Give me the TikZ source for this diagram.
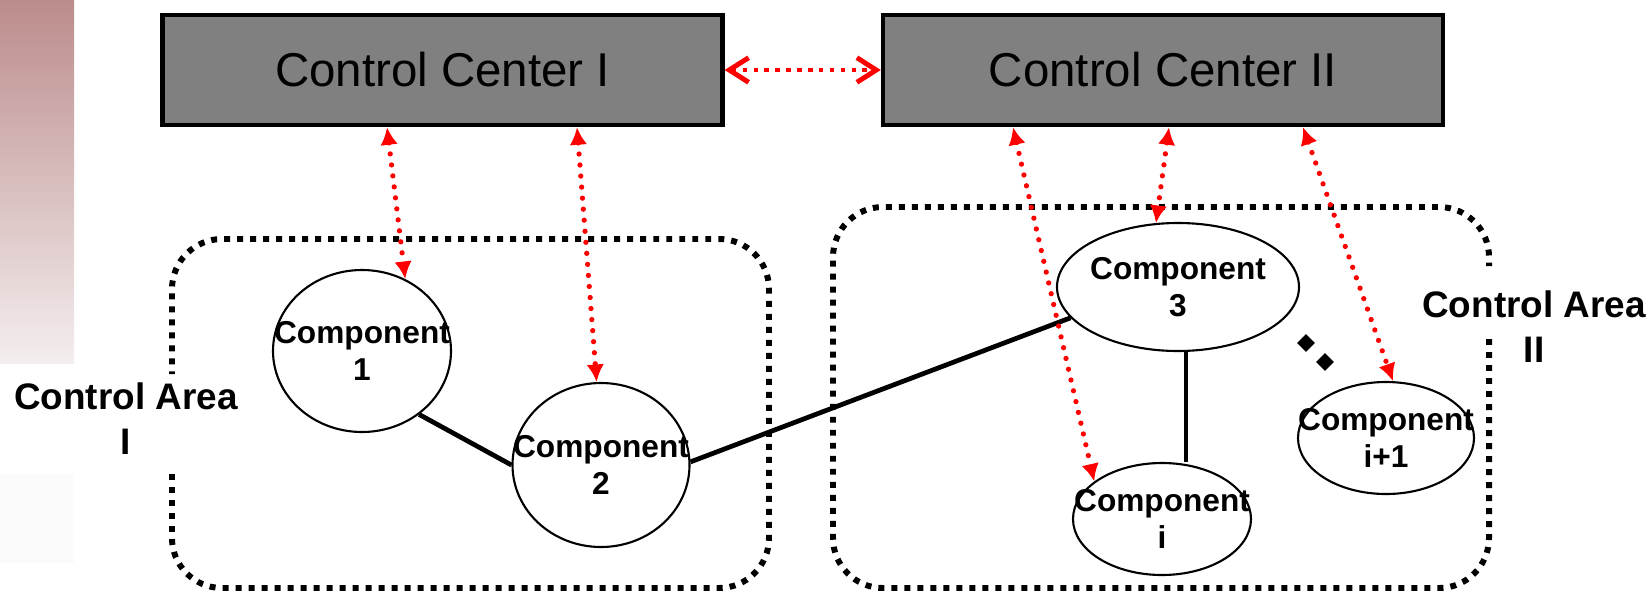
\documentclass[tikz,border=0pt]{standalone}
\usepackage{fontspec}
\setmainfont{Liberation Sans}
\usetikzlibrary{arrows.meta,shapes.geometric}
\definecolor{barrose}{RGB}{188,140,140}
\definecolor{barpale}{RGB}{244,238,238}

\begin{document}
\begin{tikzpicture}[
  ccbox/.style={draw, line width=2.5pt, fill=black!50, minimum width=11.2cm, minimum height=2.2cm, font=\fontsize{27}{32}\selectfont},
  comp/.style={draw, ellipse, fill=white, line width=1.2pt, inner sep=0pt},
  comptext/.style={align=center, font=\fontsize{18}{21}\selectfont\bfseries},
  areatext/.style={align=center, font=\fontsize{21}{25.6}\selectfont\bfseries},
  areabox/.style={line width=3.4pt, dash pattern=on 3.4pt off 4pt, rounded corners=1cm},
  link/.style={line width=2.7pt},
  ctrl/.style={red, line width=3pt, line cap=round, dash pattern=on 0pt off 6.3pt, {Latex[length=10pt,width=10pt]}-{Latex[length=10pt,width=10pt]}},
  peer/.style={red, line width=2.8pt, dash pattern=on 2.6pt off 3.6pt, {Straight Barb[length=11pt,width=14pt]}-{Straight Barb[length=11pt,width=14pt]}}
]
\useasboundingbox (0,0) rectangle (33.02,11.82);
\shade[top color=barrose, bottom color=barpale] (0,4.56) rectangle (1.48,11.82);
\fill[black!1.5] (0,.56) rectangle (1.48,2.34);

\node[ccbox] (cc1) at (8.85,10.42) {Control Center I};
\node[ccbox] (cc2) at (23.26,10.42) {Control Center II};

% control areas, open where the labels sit
\draw[areabox] (3.44,2.34) |- (15.38,.06) |- (3.44,7.04) -- (3.44,4.34);
\draw[areabox] (29.78,5.04) |- (16.66,.06) |- (29.78,7.68) -- (29.78,6.5);
\node[areatext] (a1) at (2.52,3.44) {Control Area\\I};
\node[areatext] (a2) at (30.68,5.28) {Control Area\\II};

\foreach \n/\x/\y/\w/\h/\t in {1/7.24/4.8/3.56/3.24/1, 2/12.02/2.52/3.54/3.28/2, 3/23.56/6.08/4.84/2.56/3, i/23.24/1.44/3.56/2.24/i, j/27.72/3.06/3.52/2.24/i+1}
{
    \node[comp, minimum width=\w cm, minimum height=\h cm] (c\n) at (\x,\y) {};
    \node[comptext] (l\n) at (c\n) {Component\\\t};
}
\foreach \x/\y [count=\k] in {26.12/4.96, 26.5/4.58}
    \node[diamond, fill, inner sep=0pt, minimum size=.36cm] (d\k) at (\x,\y) {};

\draw[link] (c1.-48) -- (c2.180);
\draw[link] (c2.2) -- (c3.196);
\draw[link] ([xshift=.16cm]c3.south) -- ([xshift=.16cm]c3.south |- ci.north);

\draw[peer] (cc1.east) -- (cc2.west);
\draw[ctrl] ([xshift=-1.11cm]cc1.south) -- (c1.59);
\draw[ctrl] ([xshift=2.69cm]cc1.south) -- (c2.93);
\draw[ctrl] ([xshift=-3cm]cc2.south) -- (ci.151);
\draw[ctrl] ([xshift=.12cm]cc2.south) -- (c3.109);
\draw[ctrl] ([xshift=2.8cm]cc2.south) -- (cj.83);
\end{tikzpicture}
\end{document}
